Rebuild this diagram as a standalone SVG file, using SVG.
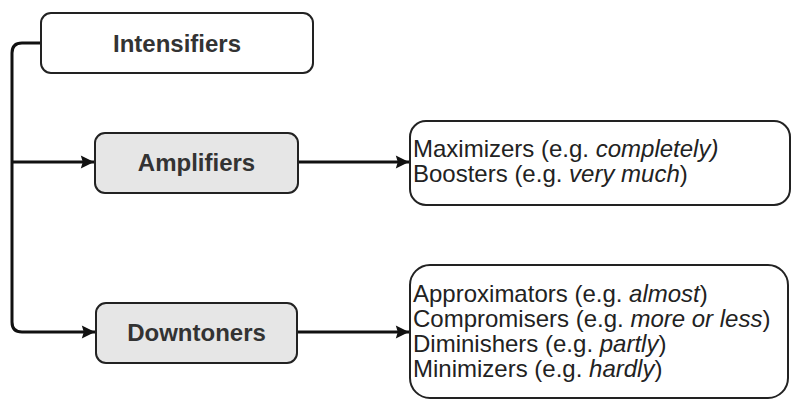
<svg xmlns="http://www.w3.org/2000/svg" width="798" height="399" viewBox="0 0 798 399">
<style>
.box{fill:#fff;stroke:#222;stroke-width:2}
.grey{fill:#e6e6e6;stroke:#222;stroke-width:2}
.lbl{font-family:"Liberation Sans",Arial,sans-serif;font-weight:bold;font-size:24px;fill:#333;text-anchor:middle}
.lst{font-family:"Liberation Sans",Arial,sans-serif;font-size:24px;fill:#222}
.it{font-style:italic}
.con{fill:none;stroke:#111;stroke-width:3}
</style>
<defs>
<marker id="ah" viewBox="0 0 10 10" refX="10" refY="5" markerWidth="6.5" markerHeight="4.4" markerUnits="strokeWidth" orient="auto">
<path d="M0,0 L10,5 L0,10 L1.5,5 z" fill="#111"/>
</marker>
</defs>
<g id="connectors">
<path class="con" d="M41,43 H22 Q12,43 12,53 V322 Q12,332 22,332 H95" marker-end="url(#ah)"/>
<path class="con" d="M12,162 H94" marker-end="url(#ah)"/>
<path class="con" d="M298,162 H409" marker-end="url(#ah)"/>
<path class="con" d="M297,332 H409" marker-end="url(#ah)"/>
</g>
<g id="intensifiers">
<rect class="box" x="41" y="13" width="272" height="60" rx="10"/>
<text class="lbl" x="177" y="52">Intensifiers</text>
</g>
<g id="amplifiers">
<rect class="grey" x="95" y="133" width="203" height="60" rx="10"/>
<text class="lbl" x="196.5" y="171">Amplifiers</text>
</g>
<g id="downtoners">
<rect class="grey" x="96" y="303" width="201" height="60" rx="10"/>
<text class="lbl" x="196.5" y="341">Downtoners</text>
</g>
<g id="amplifier-types">
<rect class="box" x="410" y="121" width="380" height="84" rx="16"/>
<text class="lst" x="413" y="157">Maximizers (e.g. <tspan class="it">completely)</tspan></text>
<text class="lst" x="413" y="182">Boosters (e.g. <tspan class="it">very much</tspan>)</text>
</g>
<g id="downtoner-types">
<rect class="box" x="410" y="265" width="378" height="133" rx="20"/>
<text class="lst" x="413" y="302">Approximators (e.g. <tspan class="it">almost</tspan>)</text>
<text class="lst" x="413" y="327">Compromisers (e.g. <tspan class="it">more or less</tspan>)</text>
<text class="lst" x="413" y="352">Diminishers (e.g. <tspan class="it">partly</tspan>)</text>
<text class="lst" x="413" y="377">Minimizers (e.g. <tspan class="it">hardly</tspan>)</text>
</g>
</svg>
